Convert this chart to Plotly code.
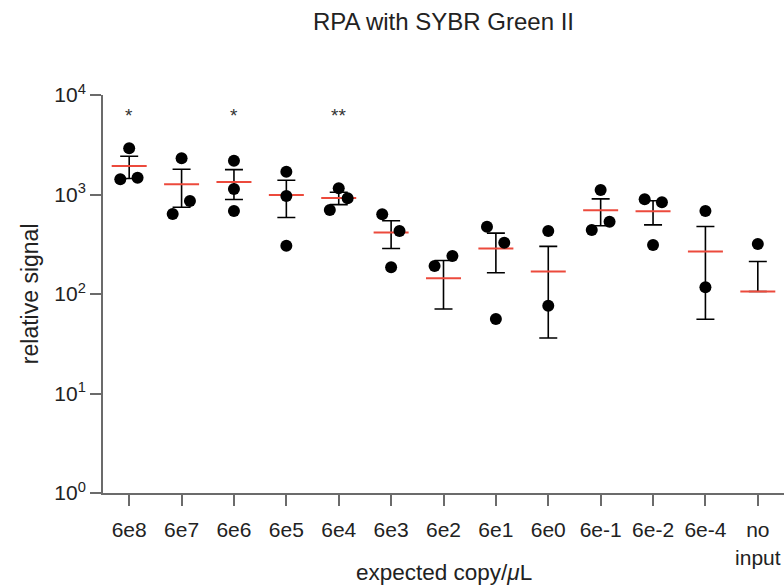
import numpy as np
import plotly.graph_objects as go

# ---- data ----
categories = ["6e8", "6e7", "6e6", "6e5", "6e4", "6e3", "6e2", "6e1",
              "6e0", "6e-1", "6e-2", "6e-4", "no<br>input"]
# three replicate measurements per condition (0 = no signal, not shown on log axis)
rep1 = [2912, 2311, 2186, 1694, 1154, 632, 191, 475, 430, 1110, 895, 683, 318]
rep2 = [1422, 860, 1136, 966, 916, 430, 241, 328, 76, 533, 835, 117, 0]
rep3 = [1475, 637, 683, 306, 699, 186, 0, 56, 0, 440, 311, 0, 0]
significance = {"6e8": "*", "6e6": "*", "6e4": "**"}
y_tick_vals = [1, 10, 100, 1000, 10000]
y_tick_text = ["10<sup>0</sup>", "10<sup>1</sup>", "10<sup>2</sup>",
               "10<sup>3</sup>", "10<sup>4</sup>"]

# ---- layout-only: horizontal spread of overlapping dots (category units) ----
spread1 = [0, 0, 0, 0, 0, -0.17, -0.17, -0.17, 0, 0, -0.16, 0, 0]
spread2 = [-0.17, 0.16, 0, 0, 0.17, 0.16, 0.17, 0.16, 0, 0.17, 0.17, 0, 0]
spread3 = [0.16, -0.17, 0, 0, -0.17, 0, 0, 0, 0, -0.17, 0, 0, 0]

FONT = "Liberation Sans, Arial, Helvetica, sans-serif"
RED = "#ec4a3c"
AXC = "#6b6b6b"
TXT = "#222222"

reps = np.array([rep1, rep2, rep3], dtype=float)
mean = reps.mean(axis=0)
sem = reps.std(axis=0, ddof=1) / np.sqrt(reps.shape[0])
sem_minus = np.where(mean - sem > 0.05 * mean, sem, 0.0)
xpos = np.arange(len(categories))

fig = go.Figure()

# mean line with SEM error bars
fig.add_trace(go.Scatter(
    x=xpos, y=mean, mode="markers",
    marker=dict(symbol="line-ew", size=25, color=RED,
                line=dict(color=RED, width=2)),
    error_y=dict(type="data", symmetric=False, array=sem, arrayminus=sem_minus,
                 color="black", thickness=1.6, width=9),
    showlegend=False, hoverinfo="skip"))

# individual replicate dots
dx, dy = [], []
for r, s in zip([rep1, rep2, rep3], [spread1, spread2, spread3]):
    for i, v in enumerate(r):
        if v > 0:
            dx.append(xpos[i] + s[i])
            dy.append(v)
fig.add_trace(go.Scatter(
    x=dx, y=dy, mode="markers",
    marker=dict(size=12, color="black"),
    showlegend=False))

annotations = []
for cat, star in significance.items():
    annotations.append(dict(x=categories.index(cat), y=3.79, xref="x", yref="y",
                            text=star, showarrow=False,
                            font=dict(family=FONT, size=19, color="#333333")))
annotations.append(dict(x=-0.107, y=0.5, xref="paper", yref="paper",
                        text="relative signal", textangle=-90, showarrow=False,
                        xanchor="center", yanchor="middle",
                        font=dict(family=FONT, size=23, color=TXT)))
annotations.append(dict(x=0.5, y=-0.2, xref="paper", yref="paper",
                        text="expected copy/<i>μ</i>L", showarrow=False,
                        xanchor="center", yanchor="middle",
                        font=dict(family=FONT, size=22.5, color=TXT)))

fig.update_layout(
    width=784, height=587,
    margin=dict(l=103, r=0, t=95, b=94),
    paper_bgcolor="white", plot_bgcolor="white",
    title=dict(text="RPA with SYBR Green II", x=0.5, xref="paper",
               y=0.9625, yanchor="middle", xanchor="center",
               font=dict(family=FONT, size=24, color=TXT)),
    font=dict(family=FONT, size=21, color=TXT),
    annotations=annotations,
    xaxis=dict(range=[-0.5, 12.5], tickvals=list(xpos), ticktext=categories,
               showgrid=False, zeroline=False, showline=True, linecolor=AXC,
               linewidth=2, ticks="outside", ticklen=11, tickwidth=2,
               tickcolor=AXC, ticklabelstandoff=6,
               tickfont=dict(family=FONT, size=21, color=TXT)),
    yaxis=dict(type="log", range=[0, 4], tickvals=y_tick_vals, ticktext=y_tick_text,
               showgrid=False, zeroline=False, showline=True, linecolor=AXC,
               linewidth=2, ticks="outside", ticklen=11, tickwidth=2,
               tickcolor=AXC, tickfont=dict(family=FONT, size=21, color=TXT)),
)

# remove the default page margin / scrollbars so the figure fills the window exactly
fig.write_html("out.html",
               config={"displayModeBar": False},
               post_script="document.body.style.margin='0';"
                           "document.body.style.overflow='hidden';")
